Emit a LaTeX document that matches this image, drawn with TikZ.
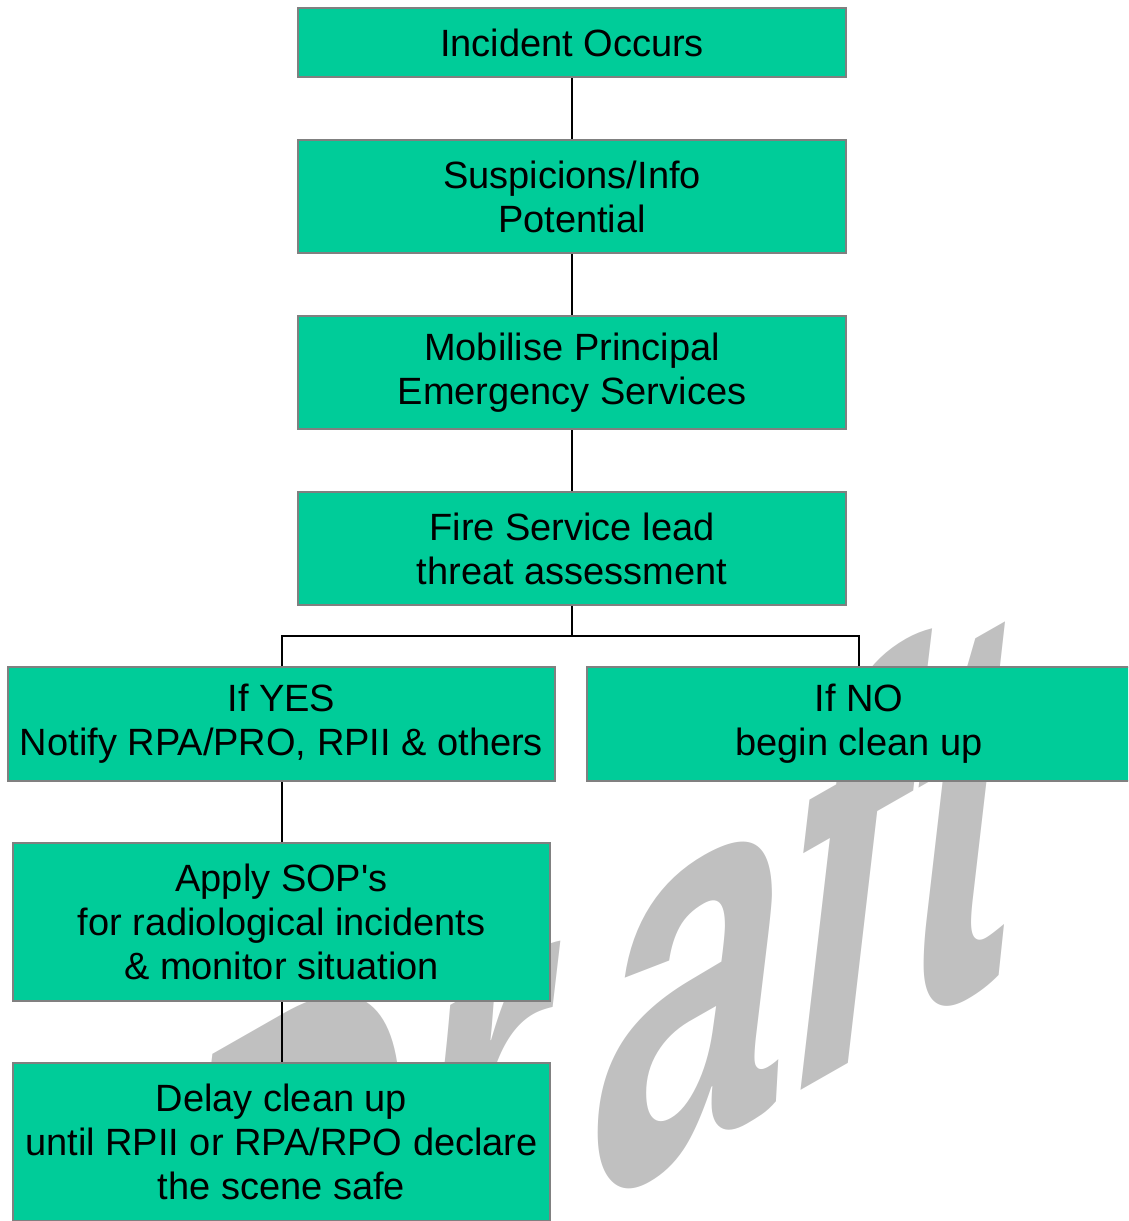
\documentclass[tikz,border=0pt]{standalone}
\usepackage{fontspec}
\setmainfont{Liberation Sans}
\definecolor{boxgreen}{HTML}{00CC99}
\definecolor{boxgray}{HTML}{808080}
\definecolor{wmgray}{HTML}{C0C0C0}
\begin{document}
\begin{tikzpicture}[x=1pt,y=1pt,
  box/.style={draw=boxgray, line width=2pt, fill=boxgreen, align=center,
    inner sep=0pt, font=\fontsize{38}{44}\selectfont},
  conn/.style={draw=black, line width=2pt}]
\useasboundingbox (0,0) rectangle (1128,-1221);
\clip (0,0) rectangle (1128,-1221);
% watermark
\begin{scope}[shift={(160,-1456)}, yslant=0.57, yscale=1.56]
\node[transform shape, anchor=base west, inner sep=0pt, text=wmgray,
  font=\fontsize{346}{346}\selectfont\bfseries\itshape] (wm) {Dr\kern52pt aft};
\end{scope}
% boxes
\node[box, minimum width=548pt, minimum height=69pt] (b1) at (572,-42.5) {Incident Occurs};
\node[box, minimum width=548pt, minimum height=113pt] (b2) at (572,-196.5) {Suspicions/Info\\Potential};
\node[box, minimum width=548pt, minimum height=113pt] (b3) at (572,-372.5) {Mobilise Principal\\Emergency Services};
\node[box, minimum width=548pt, minimum height=113pt] (b4) at (572,-548.5) {Fire Service lead\\threat assessment};
\node[box, minimum width=547pt, minimum height=114pt] (b5) at (281.5,-724) {If YES\\Notify RPA/PRO, RPII \& others};
\node[box, minimum width=544pt, minimum height=114pt] (b6) at (859,-724) {If NO\\begin clean up};
\node[box, minimum width=537pt, minimum height=158pt] (b7) at (281.5,-922) {Apply SOP\textquotesingle s\\for radiological incidents\\\& monitor situation};
\node[box, minimum width=537pt, minimum height=158pt] (b8) at (281.5,-1142) {Delay clean up\\until RPII or RPA/RPO declare\\the scene safe};
% connectors
\coordinate (j) at (572,-636);
\draw[conn] (b1) -- (b2);
\draw[conn] (b2) -- (b3);
\draw[conn] (b3) -- (b4);
\draw[conn] (b4) -- (j);
\draw[conn] (b5.north) |- (j) -| (b6.north);
\draw[conn] (b5) -- (b7);
\draw[conn] (b7) -- (b8);
\end{tikzpicture}
\end{document}
